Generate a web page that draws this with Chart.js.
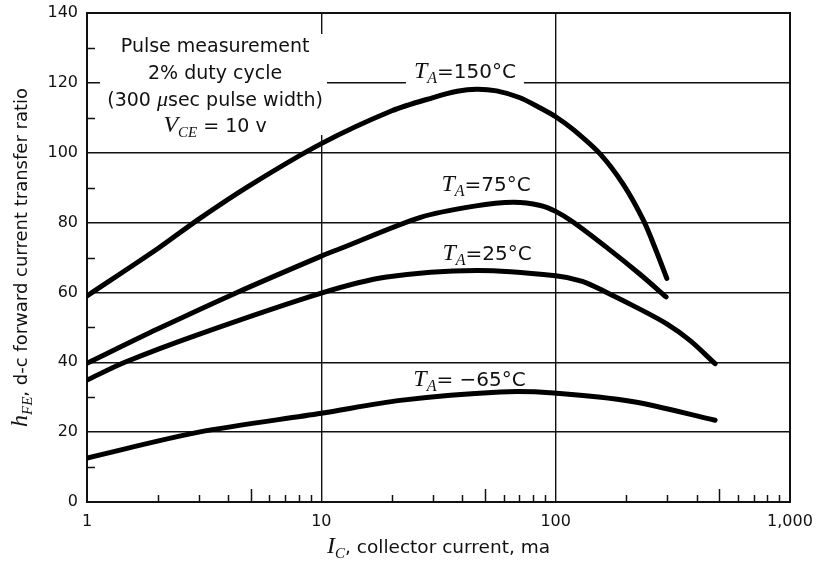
<!DOCTYPE html>
<html>
<head>
<meta charset="utf-8">
<script src="https://cdn.jsdelivr.net/npm/chart.js@4"></script>
<style>
html, body { margin: 0; padding: 0; background: #fff; }
</style>
</head>
<body>
<canvas id="hfeChart" width="819" height="563"></canvas>
<script>
// collector current (ma) and h_FE
const ic150 = [1, 2, 3, 5, 10, 20, 30, 38, 46, 56, 70, 86, 100, 119, 155, 194, 237, 270, 298];
const hfe150 = [59, 72.5, 81, 90.8, 102.6, 112, 115.8, 117.6, 118.2, 117.7, 115.8, 112.8, 110.3, 106.6, 99.6, 91, 80.6, 71.5, 64];

const ic75 = [1, 2, 4.37, 10, 12, 26.5, 45, 66, 86, 100, 119, 165, 229, 296];
const hfe75 = [39.7, 49.5, 60, 70.4, 72.5, 81.5, 84.7, 85.8, 84.9, 83.2, 80.1, 72.9, 65.2, 58.7];

const ic25 = [1, 1.45, 3, 10, 19, 46, 100, 130, 165, 220, 298, 375, 479];
const hfe25 = [34.9, 40, 48, 59.8, 64.4, 66.3, 64.8, 63.2, 60, 55.8, 51, 46.2, 39.6];

const icM65 = [1, 3, 10, 21.7, 58, 98, 215, 479];
const hfeM65 = [12.6, 20, 25.4, 29.1, 31.5, 31.2, 28.7, 23.4];

const xTickValues = [1, 10, 100, 1000];
const xMinorTicks = [2, 3, 4, 5, 6, 7, 8, 9, 20, 30, 40, 50, 60, 70, 80, 90, 200, 300, 400, 500, 600, 700, 800, 900];
const yMinorTicks = [10, 30, 50, 70, 90, 110, 130];

const SANS = '"DejaVu Sans"';
const SERIF = '"Liberation Serif"';

function toPoints(xs, ys) {
    return xs.map((x, i) => ({ x: x, y: ys[i] }));
}

// draw a run of text pieces with their own fonts; returns width
function drawRuns(ctx, runs, x, y, align) {
    let w = 0;
    runs.forEach(r => { ctx.font = r[1]; w += ctx.measureText(r[0]).width; });
    let cx = align === 'center' ? x - w / 2 : x;
    runs.forEach(r => {
        ctx.font = r[1];
        ctx.fillText(r[0], cx, y + (r[2] || 0));
        cx += ctx.measureText(r[0]).width;
    });
    return w;
}

function tempLabel(t) {
    return [
        ['T', 'italic 24px ' + SERIF],
        ['A', 'italic 16px ' + SERIF, 5],
        ['=', '20px ' + SANS],
        [t, '20px ' + SANS]
    ];
}

// curve labels: [runs, x value, baseline y value]
const curveLabels = [
    [tempLabel('150°C'), 41, 121.4],
    [tempLabel('75°C'), 50.5, 88.9],
    [tempLabel('25°C'), 51, 69.3],
    [tempLabel(' \u221265°C'), 42.9, 33.1]
];

const textPlugin = {
    id: 'textPlugin',
    beforeDatasetsDraw(chart) {
        const ctx = chart.ctx;
        const xs = chart.scales.x, ys = chart.scales.y;
        const area = chart.chartArea;
        ctx.save();
        ctx.textBaseline = 'alphabetic';

        // note box in the upper left
        ctx.fillStyle = '#fff';
        ctx.fillRect(100, 34, 227, 101);
        ctx.fillStyle = '#111';
        const bx = xs.getPixelForValue(3.52);
        drawRuns(ctx, [['Pulse measurement', '19px ' + SANS]], bx, 52, 'center');
        drawRuns(ctx, [['2% duty cycle', '19px ' + SANS]], bx, 79, 'center');
        drawRuns(ctx, [['(300 ', '19px ' + SANS], ['\u03bc', 'italic 22px ' + SERIF], ['sec pulse width)', '19px ' + SANS]], bx, 106, 'center');
        drawRuns(ctx, [['V', 'italic 24px ' + SERIF], ['CE', 'italic 15px ' + SERIF, 5], [' = 10 v', '19px ' + SANS]], bx, 132, 'center');

        // curve labels with white backing
        curveLabels.forEach(l => {
            const px = xs.getPixelForValue(l[1]);
            const py = ys.getPixelForValue(l[2]);
            let w = 0;
            l[0].forEach(r => { ctx.font = r[1]; w += ctx.measureText(r[0]).width; });
            ctx.fillStyle = '#fff';
            ctx.fillRect(px - w / 2 - 8, py - 17, w + 16, 25);
            ctx.fillStyle = '#111';
            drawRuns(ctx, l[0], px, py, 'center');
        });

        // minor ticks
        ctx.strokeStyle = '#111';
        ctx.lineWidth = 1.5;
        ctx.beginPath();
        xMinorTicks.forEach(v => {
            const px = Math.round(xs.getPixelForValue(v)) + 0.5;
            const len = String(v)[0] === '5' ? 13 : 7;
            ctx.moveTo(px, area.bottom);
            ctx.lineTo(px, area.bottom - len);
        });
        yMinorTicks.forEach(v => {
            const py = Math.round(ys.getPixelForValue(v)) + 0.5;
            ctx.moveTo(area.left, py);
            ctx.lineTo(area.left + 8, py);
        });
        ctx.stroke();

        // frame
        ctx.lineWidth = 2;
        ctx.strokeRect(area.left, area.top, area.right - area.left, area.bottom - area.top);
        ctx.restore();
    },
    afterDraw(chart) {
        const ctx = chart.ctx;
        const area = chart.chartArea;
        ctx.save();
        ctx.fillStyle = '#111';
        ctx.textBaseline = 'alphabetic';
        // x axis title
        drawRuns(ctx, [['I', 'italic 24px ' + SERIF], ['C', 'italic 15px ' + SERIF, 5], [', collector current, ma', '18.5px ' + SANS]],
            (area.left + area.right) / 2, 553, 'center');
        // y axis title
        ctx.translate(27, (area.top + area.bottom) / 2);
        ctx.rotate(-Math.PI / 2);
        drawRuns(ctx, [['h', 'italic 24px ' + SERIF], ['FE', 'italic 15px ' + SERIF, 5], [', d-c forward current transfer ratio', '18px ' + SANS]],
            0, 0, 'center');
        ctx.restore();
    }
};

const curveStyle = {
    borderColor: '#000',
    borderWidth: 5,
    pointRadius: 0,
    fill: false,
    tension: 0.3,
    borderCapStyle: 'round',
    borderJoinStyle: 'round'
};

new Chart(document.getElementById('hfeChart').getContext('2d'), {
    type: 'line',
    data: {
        datasets: [
            Object.assign({ label: 'TA=150°C', data: toPoints(ic150, hfe150) }, curveStyle),
            Object.assign({ label: 'TA=75°C', data: toPoints(ic75, hfe75) }, curveStyle),
            Object.assign({ label: 'TA=25°C', data: toPoints(ic25, hfe25) }, curveStyle),
            Object.assign({ label: 'TA=-65°C', data: toPoints(icM65, hfeM65) }, curveStyle)
        ]
    },
    options: {
        responsive: false,
        animation: false,
        devicePixelRatio: 1,
        layout: { padding: { top: 13, right: 29, left: 0, bottom: 0 } },
        plugins: {
            legend: { display: false },
            tooltip: { enabled: false }
        },
        scales: {
            x: {
                type: 'logarithmic',
                min: 1,
                max: 1000,
                afterBuildTicks: s => { s.ticks = xTickValues.map(v => ({ value: v })); },
                afterFit: s => { s.height = 61; s.paddingLeft = 0; s.paddingRight = 0; },
                ticks: {
                    padding: 10,
                    autoSkip: false,
                    maxRotation: 0,
                    color: '#111',
                    font: { family: 'DejaVu Sans', size: 16 },
                    callback: v => v === 1000 ? '1,000' : String(v)
                },
                grid: { color: '#111', lineWidth: 1.4, drawTicks: false },
                border: { color: '#111', width: 2 }
            },
            y: {
                min: 0,
                max: 140,
                afterFit: s => { s.width = 87; s.paddingTop = 0; s.paddingBottom = 0; },
                ticks: {
                    stepSize: 20,
                    padding: 9,
                    color: '#111',
                    font: { family: 'DejaVu Sans', size: 16 }
                },
                grid: { color: '#111', lineWidth: 1.4, drawTicks: false },
                border: { color: '#111', width: 2 }
            }
        }
    },
    plugins: [textPlugin]
});
</script>
</body>
</html>
